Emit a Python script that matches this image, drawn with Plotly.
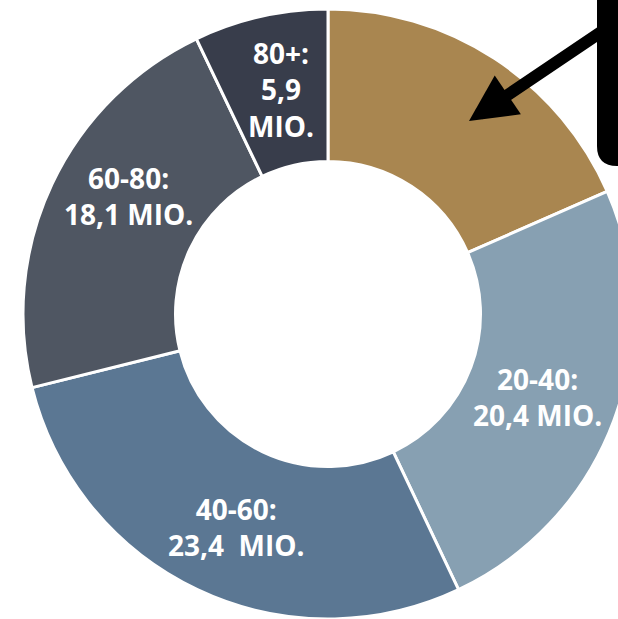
import plotly.graph_objects as go

# data
age_groups = ["0-20", "20-40", "40-60", "60-80", "80+"]
population_mio = [15.3, 20.4, 23.4, 18.1, 5.9]
slice_labels = ["", "20-40:<br>20,4 MIO.", "40-60:<br>23,4\u00a0\u00a0MIO.",
                "60-80:<br>18,1 MIO.", "80+:<br>5,9<br>MIO."]
slice_colors = ["#A98650", "#87A0B2", "#5B7793", "#4F5662", "#383D4B"]

W, H = 650, 619

def px_x(p):
    return p / W

def px_y(p):
    return 1 - p / H

fig = go.Figure(go.Pie(
    labels=age_groups,
    values=population_mio,
    textinfo="none",
    sort=False,
    direction="clockwise",
    rotation=0,
    hole=0.5,
    marker=dict(colors=slice_colors, line=dict(color="white", width=3)),
    domain=dict(x=[px_x(23), px_x(633)], y=[0, px_y(9)]),
    hoverinfo="skip",
    showlegend=False,
))

# label placement (pixel centres in the 618x619 view)
label_pos = {"20-40": (537, 397), "40-60": (236, 527),
             "60-80": (128, 196), "80+": (281, 90)}
for grp, txt in zip(age_groups, slice_labels):
    if not txt:
        continue
    lx, ly = label_pos[grp]
    fig.add_annotation(
        x=px_x(lx), y=px_y(ly), xref="paper", yref="paper",
        text=txt, showarrow=False, xanchor="center", yanchor="middle",
        align="center",
        font=dict(family="Open Sans", size=28, color="white", weight="bold"),
    )

# black box on the right (partially visible)
fig.add_shape(
    type="path",
    xref="paper", yref="paper",
    path=(f"M {px_x(597)} {px_y(-10)} L {px_x(597)} {px_y(146)} "
          f"Q {px_x(597)} {px_y(166)} {px_x(617)} {px_y(166)} "
          f"L {px_x(660)} {px_y(166)} L {px_x(660)} {px_y(-10)} Z"),
    fillcolor="black", line=dict(width=0),
)

# arrow
fig.add_annotation(
    x=px_x(469), y=px_y(121), xref="paper", yref="paper",
    ax=610 - 469, ay=26 - 121, axref="pixel", ayref="pixel",
    text="", showarrow=True, arrowhead=2, arrowsize=0.78,
    arrowwidth=12, arrowcolor="black",
)

fig.update_layout(
    width=W, height=H, autosize=False,
    margin=dict(l=0, r=0, t=0, b=0),
    paper_bgcolor="white", plot_bgcolor="white",
)

fig.write_html("out.html")
